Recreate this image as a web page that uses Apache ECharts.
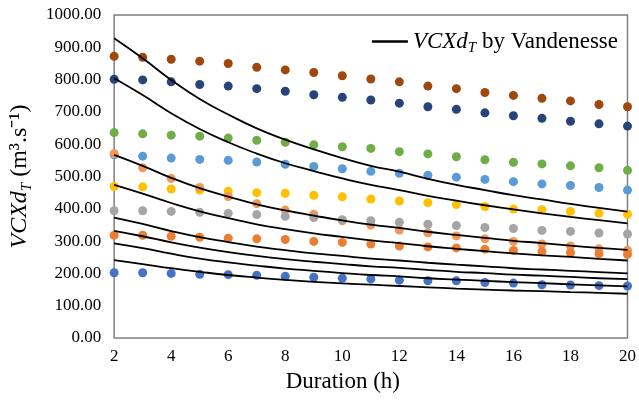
<!DOCTYPE html>
<html>
<head>
<meta charset="utf-8">
<style>
  html, body { margin: 0; padding: 0; background: #fff; }
  #chart { width: 639px; height: 401px; }
</style>
<script src="https://cdn.jsdelivr.net/npm/echarts@6/dist/echarts.min.js"></script>
</head>
<body>
<div id="chart"></div>
<script>
  // durations (h)
  var hours = [2, 3, 4, 5, 6, 7, 8, 9, 10, 11, 12, 13, 14, 15, 16, 17, 18, 19, 20]

  // measured points, one array per station
  var brown      = [872, 869, 863, 857, 850, 838, 830, 822, 812, 802, 793, 780, 772, 760, 751, 742, 734, 723, 716]
  var navy       = [801, 799, 793, 785, 780, 772, 764, 753, 745, 737, 727, 716, 708, 697, 688, 680, 671, 663, 656]
  var green      = [636, 632, 628, 625, 619, 612, 606, 598, 592, 587, 577, 570, 561, 552, 544, 539, 533, 527, 519]
  var lightBlue  = [567, 563, 557, 553, 550, 545, 538, 531, 524, 516, 510, 504, 498, 491, 484, 477, 472, 466, 458]
  var yellow     = [469, 468, 461, 458, 454, 450, 448, 442, 437, 430, 424, 419, 413, 407, 399, 397, 392, 386, 383]
  var salmon     = [571, 527, 494, 466, 438, 416, 396, 383, 363, 350, 334, 326, 316, 307, 299, 291, 285, 276, 272]
  var gray       = [394, 394, 392, 389, 386, 382, 377, 373, 366, 363, 358, 352, 348, 342, 339, 333, 330, 325, 322]
  var orange     = [318, 318, 315, 312, 309, 307, 305, 299, 296, 291, 285, 282, 279, 275, 271, 267, 264, 261, 259]
  var blue       = [202, 202, 200, 197, 196, 194, 191, 188, 185, 183, 179, 177, 177, 172, 170, 165, 164, 162, 161]

  // Vandenesse curves
  var curve1 = [928, 866, 799, 740, 692, 649, 614, 584, 557, 533, 515, 493, 474, 458, 442, 429, 415, 403, 391]
  var curve2 = [804, 752, 696, 647, 606, 571, 541, 517, 494, 474, 458, 440, 425, 411, 398, 386, 375, 365, 355]
  var curve3 = [567, 533, 496, 464, 438, 414, 395, 379, 364, 351, 341, 329, 319, 310, 301, 294, 286, 279, 273]
  var curve4 = [474, 447, 418, 392, 371, 352, 337, 324, 313, 302, 294, 284, 276, 269, 262, 256, 251, 245, 240]
  var curve5 = [373, 353, 331, 312, 297, 283, 272, 262, 254, 246, 240, 233, 227, 222, 216, 212, 208, 204, 200]
  var curve6 = [332, 315, 296, 280, 266, 254, 244, 236, 229, 222, 217, 211, 205, 201, 196, 193, 189, 185, 182]
  var curve7 = [293, 278, 261, 246, 234, 224, 215, 208, 201, 195, 191, 185, 181, 177, 173, 170, 166, 163, 160]
  var curve8 = [241, 229, 216, 205, 195, 187, 180, 174, 169, 165, 161, 157, 153, 150, 147, 145, 142, 140, 137]

  var points = [
    {data: brown, color: '#9E480E'},
    {data: navy, color: '#264478'},
    {data: green, color: '#70AD47'},
    {data: lightBlue, color: '#5B9BD5'},
    {data: yellow, color: '#FFC000'},
    {data: salmon, color: '#F1975A'},
    {data: gray, color: '#A5A5A5'},
    {data: orange, color: '#ED7D31'},
    {data: blue, color: '#4472C4'}
  ]
  var curves = [curve1, curve2, curve3, curve4, curve5, curve6, curve7, curve8]

  var lineName = 'VCXdT by Vandenesse'
  var serif = 'Liberation Serif'

  function pairs(arr) {
    return arr.map(function (v, i) { return [hours[i], v] })
  }

  var series = []
  points.forEach(function (p, i) {
    series.push({
      name: 'pts' + i,
      type: 'scatter',
      data: pairs(p.data),
      symbolSize: 9,
      itemStyle: {color: p.color, opacity: 1},
      z: 2
    })
  })
  curves.forEach(function (c) {
    series.push({
      name: lineName,
      type: 'line',
      data: pairs(c),
      smooth: true,
      symbol: 'none',
      lineStyle: {color: '#000', width: 1.8},
      itemStyle: {color: '#000'},
      z: 3
    })
  })

  var chart = echarts.init(document.getElementById('chart'))
  var option = {
    animation: false,
    backgroundColor: '#fff',
    textStyle: {fontFamily: serif, color: '#000'},
    grid: {
      left: 112, right: 8, top: 15, bottom: 63,
      show: true, borderColor: '#7f7f7f', borderWidth: 1.5
    },
    legend: {
      data: [{name: lineName, icon: 'rect'}],
      right: 16, top: 25,
      itemWidth: 36, itemHeight: 2.5, itemGap: 14,
      backgroundColor: '#fff',
      formatter: function () { return '{i|VCXd}{s|T}{n| by Vandenesse}' },
      textStyle: {
        fontFamily: serif, color: '#000',
        rich: {
          i: {fontFamily: serif, fontStyle: 'italic', fontSize: 23, lineHeight: 28, verticalAlign: 'middle'},
          s: {fontFamily: serif, fontStyle: 'italic', fontSize: 15, lineHeight: 28, verticalAlign: 'bottom'},
          n: {fontFamily: serif, fontSize: 23, lineHeight: 28, verticalAlign: 'middle'}
        }
      }
    },
    xAxis: {
      type: 'value', min: 2, max: 20, interval: 2,
      name: 'Duration (h)', nameLocation: 'middle', nameGap: 32,
      nameTextStyle: {fontFamily: serif, fontSize: 23, color: '#000', padding: [0, 56, 0, 0]},
      axisLine: {show: false}, axisTick: {show: false}, splitLine: {show: false},
      axisLabel: {fontFamily: serif, fontSize: 17, color: '#000', margin: 10}
    },
    yAxis: {
      type: 'value', min: 0, max: 1000, interval: 100,
      name: '{i|VCXd}{s|T}{n| (m³.s⁻¹)}', nameLocation: 'middle', nameGap: 73, nameRotate: 90,
      nameTextStyle: {
        fontFamily: serif, color: '#000',
        rich: {
          i: {fontFamily: serif, fontStyle: 'italic', fontSize: 24, lineHeight: 30, verticalAlign: 'middle'},
          s: {fontFamily: serif, fontStyle: 'italic', fontSize: 15, lineHeight: 30, verticalAlign: 'bottom'},
          n: {fontFamily: serif, fontSize: 24, lineHeight: 30, verticalAlign: 'middle'}
        }
      },
      axisLine: {show: false}, axisTick: {show: false}, splitLine: {show: false},
      axisLabel: {
        fontFamily: serif, fontSize: 17, color: '#000', margin: 13,
        formatter: function (v) { return v.toFixed(2) }
      }
    },
    series: series
  }
  chart.setOption(option)
</script>
</body>
</html>
